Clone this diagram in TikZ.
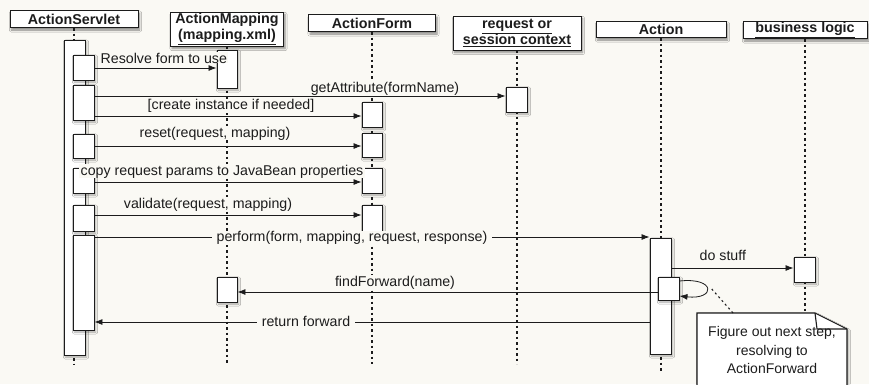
\documentclass[tikz,border=0pt]{standalone}
\usepackage{fontspec}
\setmainfont{Liberation Sans}
\usetikzlibrary{arrows.meta,shadows,shadows.blur,fit}
\definecolor{paper}{RGB}{250,249,244}
\definecolor{ink}{RGB}{28,28,28}

\tikzset{
  head/.style={draw=ink, line width=1pt, fill=white, inner sep=0pt, align=center,
    font=\fontsize{14.3}{15.5}\selectfont\bfseries, text=ink,
    blur shadow={shadow xshift=1.5pt, shadow yshift=-2.5pt, shadow blur steps=5, shadow opacity=45}},
  life/.style={draw=ink, line width=1.1pt, dash pattern=on 2.5pt off 3pt},
  act/.style={draw=ink, line width=0.9pt, fill=white, inner sep=0pt,
    blur shadow={shadow xshift=1.5pt, shadow yshift=-2pt, shadow blur steps=4, shadow opacity=35}},
  msg/.style={draw=ink, line width=0.8pt, -{Latex[length=8pt,width=6pt]}},
  lbl/.style={font=\fontsize{14.2}{15.5}\selectfont, fill=paper, inner xsep=1.5pt, inner ysep=0.3pt, text=ink},
  inlbl/.style={lbl, inner xsep=5pt},
  notebox/.style={draw=ink, line width=1.1pt, fill=white,
    blur shadow={shadow xshift=1.5pt, shadow yshift=-2pt, shadow blur steps=4, shadow opacity=35}},
  notelink/.style={draw=ink, line width=1.1pt, dash pattern=on 2pt off 3pt},
}

\begin{document}
\begin{tikzpicture}[x=1pt,y=-1pt]
  \fill[paper] (0,0) rectangle (869,384);
  \useasboundingbox (0,0) rectangle (869,384);
  \clip (0,0) rectangle (869,384);

  % object headers
  \node[head, minimum width=128pt, minimum height=17pt] (hAS) at (74,19) {ActionServlet};
  \node[head, minimum width=113pt, minimum height=34pt] (hAM) at (227,29) {ActionMapping\\\underline{(mapping.xml)}};
  \node[head, minimum width=127pt, minimum height=17pt] (hAF) at (372,23) {ActionForm};
  \node[head, minimum width=128pt, minimum height=34pt] (hRS) at (517,33) {\underline{request or}\\\underline{session context}};
  \node[head, minimum width=130pt, minimum height=16pt] (hAC) at (661,29.5) {Action};
  \node[head, minimum width=124pt, minimum height=17pt] (hBL) at (805,30) {\underline{business logic}};

  % lifelines
  \coordinate (bot) at (0,364);
  \coordinate (botA) at (0,372);
  \coordinate (botB) at (0,384);
  \draw[life] (hAS.south) -- (hAS.south |- bot);
  \draw[life] (hAM.south) -- (hAM.south |- bot);
  \draw[life] (hAF.south) -- (hAF.south |- bot);
  \draw[life] (hRS.south) -- (hRS.south |- bot);
  \draw[life] (hAC.south) -- (hAC.south |- botA);
  \draw[life] (hBL.south) -- (hBL.south |- botB);

  % activations: ActionServlet
  \node[act, fit={(64,40) (85,355)}] (asO) {};
  \node[act, fit={(73,55) (94,80)}] (as1) {};
  \node[act, fit={(73,85) (94,120)}] (as2) {};
  \node[act, fit={(73,134) (94,158)}] (as3) {};
  \node[act, fit={(73,168) (94,193)}] (as4) {};
  \node[act, fit={(73,205) (94,231)}] (as5) {};
  \node[act, fit={(73,235) (94,330)}] (as6) {};
  % activations: ActionMapping
  \node[act, fit={(217,50) (237,88)}] (am1) {};
  \node[act, fit={(217,277) (237,302)}] (am2) {};
  % activations: ActionForm
  \node[act, fit={(362,102) (382,127)}] (af1) {};
  \node[act, fit={(362,133) (382,157)}] (af2) {};
  \node[act, fit={(362,168) (382,193)}] (af3) {};
  \node[act, fit={(362,205) (382,236)}] (af4) {};
  % activations: request / session context
  \node[act, fit={(506,87) (527,112)}] (rs1) {};
  % activations: Action
  \node[act, fit={(650,238) (671,354)}] (ac1) {};
  \node[act, fit={(658,277) (679,300)}] (ac2) {};
  % activations: business logic
  \node[act, fit={(794,257) (815,282)}] (bl1) {};

  % message rows
  \coordinate (y1) at (0,68);
  \coordinate (y2) at (0,96);
  \coordinate (y3) at (0,116);
  \coordinate (y4) at (0,146);
  \coordinate (y5) at (0,182);
  \coordinate (y6) at (0,215);
  \coordinate (y7) at (0,237);
  \coordinate (y8) at (0,268);
  \coordinate (y9) at (0,292);
  \coordinate (y10) at (0,322);

  \draw[msg] (as1.east |- y1) -- (am1.west |- y1);
  \draw[msg] (as2.east |- y2) -- (rs1.west |- y2);
  \draw[msg] (as2.east |- y3) -- (af1.west |- y3);
  \draw[msg] (as3.east |- y4) -- (af2.west |- y4);
  \draw[msg] (as4.east |- y5) -- (af3.west |- y5);
  \draw[msg] (as5.east |- y6) -- (af4.west |- y6);
  \draw[msg] (as6.east |- y7) -- (ac1.west |- y7);
  \draw[msg] (ac1.east |- y8) -- (bl1.west |- y8);
  \draw[msg] (ac2.west |- y9) -- (am2.east |- y9);
  \draw[msg] (ac1.west |- y10) -- (as6.east |- y10);

  % self call on Action
  \coordinate (s1) at (0,281);
  \coordinate (s2) at (0,296);
  \draw[msg] (ac2.east |- s1) .. controls (716,277) and (716,300) .. (ac2.east |- s2);

  % message labels
  \node[lbl, anchor=base west] (l1) at (99,63) {Resolve form to use};
  \node[lbl, anchor=base] (l2) at (385,92) {getAttribute(formName)};
  \node[lbl, anchor=base] (l3) at (231,109.5) {[create instance if needed]};
  \node[lbl, anchor=base] (l4) at (215,137) {reset(request, mapping)};
  \node[lbl, anchor=base] (l5) at (222,175) {copy request params to JavaBean properties};
  \node[lbl, anchor=base] (l6) at (208,208) {validate(request, mapping)};
  \node[inlbl, anchor=base] (l7) at (352,241.5) {perform(form, mapping, request, response)};
  \node[lbl, anchor=base west] (l8) at (698,260) {do stuff};
  \node[lbl, anchor=base] (l9) at (395,286) {findForward(name)};
  \node[inlbl, anchor=base] (l10) at (306,326.5) {return forward};

  % note
  \draw[notebox] (697,313) -- (815,313) -- (847,329) -- (847,395) -- (697,395) -- cycle;
  \draw[ink, line width=1.1pt] (815,313) -- (817,329) -- (847,329);
  \node[font=\fontsize{14}{18.5}\selectfont, align=center, text=ink, anchor=north] (note) at (772,323)
    {Figure out next step,\\resolving to\\ActionForward};
  \coordinate (notetip) at (733,313);
  \coordinate (loopend) at (710,287);
  \draw[notelink] (notetip) -- (loopend);
\end{tikzpicture}
\end{document}
